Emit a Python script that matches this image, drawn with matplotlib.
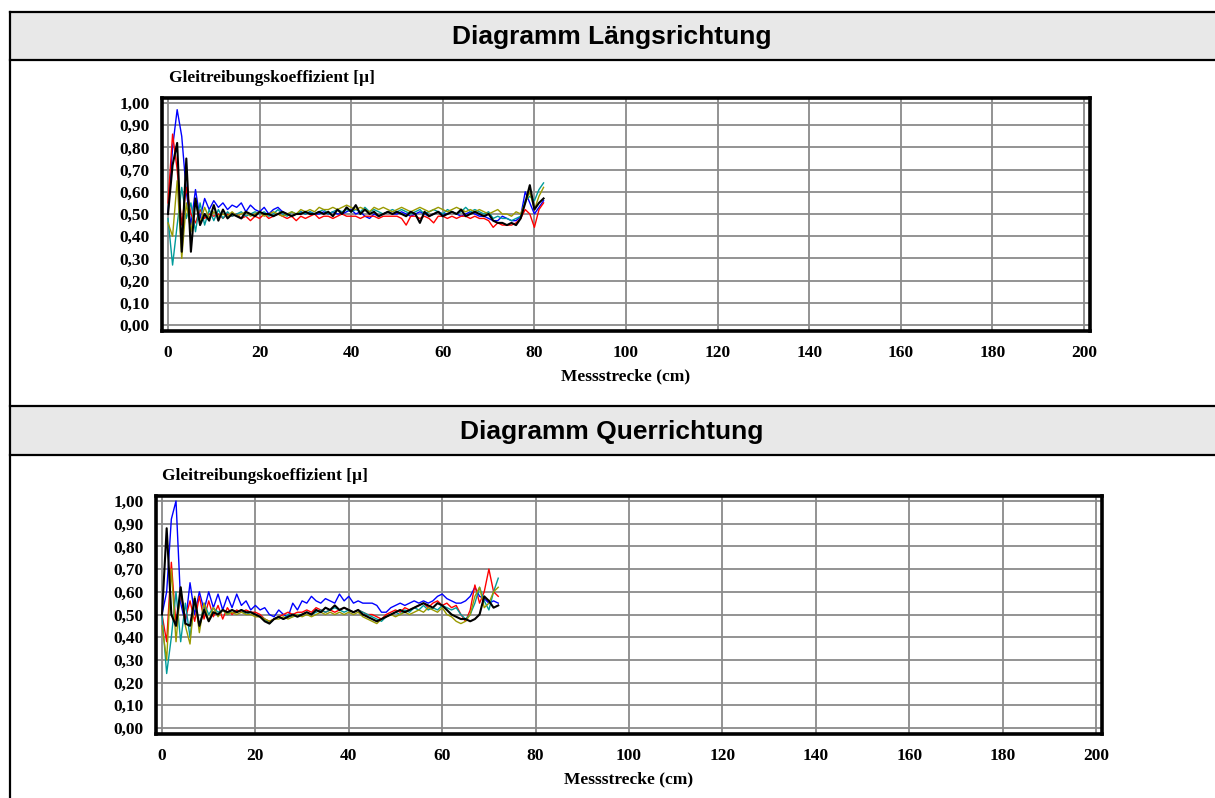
import numpy as np
import matplotlib
matplotlib.use("Agg")
import matplotlib.pyplot as plt

# Messstrecke in cm (1 cm Schritte)
x_laengs = np.arange(0, 83)
x_quer = np.arange(0, 73)

# Diagramm Längsrichtung
laengs_blau = [0.50, 0.80, 0.97, 0.85, 0.60, 0.45, 0.61, 0.48, 0.57, 0.52, 0.56, 0.53, 0.55, 0.52, 0.54, 0.53, 0.55, 0.51, 0.54, 0.52,
               0.51, 0.53, 0.50, 0.52, 0.53, 0.51, 0.50, 0.49, 0.50, 0.51, 0.50, 0.51, 0.50, 0.50, 0.51, 0.50, 0.51, 0.50, 0.50, 0.51,
               0.52, 0.50, 0.51, 0.49, 0.48, 0.50, 0.49, 0.50, 0.51, 0.50, 0.50, 0.51, 0.50, 0.49, 0.50, 0.51, 0.50, 0.49, 0.50, 0.51,
               0.50, 0.50, 0.51, 0.50, 0.49, 0.50, 0.51, 0.50, 0.49, 0.49, 0.48, 0.47, 0.47, 0.49, 0.48, 0.47, 0.47, 0.49, 0.60, 0.55,
               0.50, 0.53, 0.56]
laengs_rot = [0.55, 0.86, 0.70, 0.45, 0.62, 0.50, 0.46, 0.52, 0.48, 0.50, 0.49, 0.50, 0.48, 0.50, 0.49, 0.50, 0.48, 0.49, 0.47, 0.49,
              0.48, 0.50, 0.48, 0.49, 0.50, 0.49, 0.48, 0.49, 0.47, 0.49, 0.48, 0.49, 0.50, 0.48, 0.49, 0.49, 0.48, 0.49, 0.50, 0.49,
              0.49, 0.49, 0.48, 0.49, 0.49, 0.49, 0.48, 0.49, 0.49, 0.49, 0.49, 0.48, 0.45, 0.49, 0.49, 0.48, 0.49, 0.48, 0.46, 0.49,
              0.49, 0.48, 0.49, 0.48, 0.49, 0.49, 0.48, 0.49, 0.48, 0.48, 0.47, 0.44, 0.46, 0.45, 0.45, 0.45, 0.46, 0.48, 0.52, 0.50,
              0.44, 0.52, 0.55]
laengs_tuerkis = [0.48, 0.27, 0.45, 0.62, 0.48, 0.55, 0.42, 0.55, 0.45, 0.52, 0.47, 0.52, 0.48, 0.51, 0.49, 0.50, 0.51, 0.49, 0.50, 0.51,
                  0.50, 0.51, 0.49, 0.50, 0.52, 0.50, 0.49, 0.51, 0.50, 0.51, 0.50, 0.51, 0.50, 0.51, 0.52, 0.50, 0.51, 0.52, 0.51, 0.52,
                  0.51, 0.52, 0.51, 0.53, 0.51, 0.52, 0.51, 0.50, 0.51, 0.52, 0.51, 0.52, 0.51, 0.50, 0.51, 0.52, 0.50, 0.51, 0.52, 0.51,
                  0.50, 0.52, 0.51, 0.50, 0.51, 0.53, 0.51, 0.52, 0.51, 0.50, 0.51, 0.48, 0.49, 0.48, 0.48, 0.47, 0.48, 0.49, 0.56, 0.58,
                  0.56, 0.61, 0.64]
laengs_oliv = [0.46, 0.40, 0.65, 0.30, 0.55, 0.42, 0.56, 0.46, 0.53, 0.48, 0.51, 0.49, 0.50, 0.49, 0.51, 0.49, 0.50, 0.51, 0.49, 0.50,
               0.51, 0.49, 0.50, 0.51, 0.50, 0.49, 0.50, 0.51, 0.50, 0.52, 0.51, 0.52, 0.51, 0.53, 0.52, 0.52, 0.53, 0.52, 0.53, 0.54,
               0.53, 0.52, 0.53, 0.52, 0.51, 0.53, 0.52, 0.53, 0.52, 0.51, 0.52, 0.53, 0.52, 0.51, 0.52, 0.53, 0.52, 0.51, 0.52, 0.53,
               0.52, 0.51, 0.52, 0.53, 0.52, 0.51, 0.52, 0.51, 0.52, 0.51, 0.50, 0.51, 0.52, 0.50, 0.50, 0.49, 0.51, 0.50, 0.55, 0.60,
               0.52, 0.58, 0.62]
laengs_schwarz = [0.50, 0.72, 0.82, 0.33, 0.75, 0.33, 0.57, 0.45, 0.50, 0.47, 0.54, 0.47, 0.52, 0.48, 0.50, 0.49, 0.48, 0.51, 0.50, 0.49,
                  0.51, 0.50, 0.50, 0.49, 0.50, 0.51, 0.50, 0.49, 0.50, 0.50, 0.51, 0.50, 0.50, 0.51, 0.50, 0.51, 0.49, 0.52, 0.50, 0.53,
                  0.51, 0.54, 0.50, 0.52, 0.50, 0.51, 0.49, 0.50, 0.51, 0.50, 0.51, 0.50, 0.49, 0.51, 0.50, 0.46, 0.51, 0.49, 0.50, 0.51,
                  0.49, 0.50, 0.51, 0.50, 0.52, 0.49, 0.50, 0.51, 0.50, 0.49, 0.50, 0.47, 0.46, 0.46, 0.45, 0.46, 0.45, 0.48, 0.55, 0.63,
                  0.52, 0.55, 0.57]

# Diagramm Querrichtung
quer_blau = [0.50, 0.60, 0.92, 1.00, 0.55, 0.46, 0.64, 0.50, 0.60, 0.52, 0.60, 0.53, 0.59, 0.52, 0.58, 0.53, 0.59, 0.54, 0.56, 0.52,
             0.54, 0.52, 0.53, 0.50, 0.49, 0.52, 0.50, 0.49, 0.55, 0.52, 0.56, 0.55, 0.58, 0.56, 0.55, 0.57, 0.56, 0.55, 0.59, 0.56,
             0.58, 0.55, 0.56, 0.55, 0.55, 0.55, 0.54, 0.51, 0.51, 0.53, 0.54, 0.55, 0.54, 0.55, 0.56, 0.55, 0.56, 0.55, 0.56, 0.58,
             0.59, 0.57, 0.56, 0.55, 0.55, 0.56, 0.58, 0.62, 0.58, 0.57, 0.55, 0.56, 0.55]
quer_rot = [0.50, 0.38, 0.73, 0.45, 0.60, 0.48, 0.56, 0.47, 0.58, 0.48, 0.56, 0.49, 0.54, 0.48, 0.53, 0.50, 0.52, 0.51, 0.52, 0.51,
            0.51, 0.50, 0.48, 0.47, 0.48, 0.49, 0.50, 0.51, 0.50, 0.51, 0.51, 0.52, 0.51, 0.53, 0.52, 0.51, 0.52, 0.51, 0.52, 0.53,
            0.52, 0.51, 0.52, 0.51, 0.50, 0.50, 0.49, 0.48, 0.50, 0.51, 0.52, 0.51, 0.53, 0.52, 0.53, 0.54, 0.55, 0.53, 0.55, 0.56,
            0.54, 0.55, 0.53, 0.54, 0.50, 0.47, 0.52, 0.63, 0.55, 0.60, 0.70, 0.60, 0.58]
quer_tuerkis = [0.50, 0.24, 0.40, 0.60, 0.38, 0.55, 0.40, 0.57, 0.44, 0.55, 0.50, 0.53, 0.51, 0.52, 0.50, 0.52, 0.51, 0.52, 0.50, 0.51,
                0.50, 0.49, 0.48, 0.46, 0.48, 0.49, 0.48, 0.50, 0.49, 0.50, 0.50, 0.51, 0.50, 0.51, 0.52, 0.51, 0.52, 0.53, 0.52, 0.51,
                0.52, 0.51, 0.52, 0.51, 0.50, 0.49, 0.48, 0.47, 0.49, 0.50, 0.51, 0.50, 0.52, 0.51, 0.53, 0.52, 0.54, 0.52, 0.53, 0.52,
                0.54, 0.53, 0.52, 0.53, 0.50, 0.48, 0.50, 0.55, 0.62, 0.56, 0.52, 0.60, 0.66]
quer_oliv = [0.45, 0.30, 0.70, 0.38, 0.62, 0.45, 0.37, 0.58, 0.42, 0.55, 0.47, 0.53, 0.49, 0.52, 0.50, 0.51, 0.50, 0.51, 0.50, 0.50,
             0.49, 0.49, 0.48, 0.47, 0.48, 0.48, 0.49, 0.48, 0.49, 0.50, 0.49, 0.50, 0.49, 0.50, 0.51, 0.50, 0.51, 0.50, 0.51, 0.50,
             0.51, 0.50, 0.51, 0.49, 0.48, 0.47, 0.46, 0.48, 0.49, 0.50, 0.49, 0.50, 0.51, 0.50, 0.51, 0.52, 0.51, 0.53, 0.52, 0.51,
             0.53, 0.50, 0.49, 0.47, 0.46, 0.47, 0.50, 0.58, 0.62, 0.53, 0.55, 0.60, 0.62]
quer_schwarz = [0.50, 0.88, 0.50, 0.45, 0.62, 0.46, 0.45, 0.57, 0.45, 0.52, 0.47, 0.51, 0.50, 0.52, 0.51, 0.52, 0.51, 0.52, 0.51, 0.51,
                0.50, 0.49, 0.47, 0.46, 0.48, 0.49, 0.48, 0.49, 0.50, 0.49, 0.50, 0.51, 0.50, 0.52, 0.51, 0.53, 0.52, 0.54, 0.52, 0.53,
                0.52, 0.51, 0.52, 0.50, 0.49, 0.48, 0.47, 0.48, 0.49, 0.50, 0.51, 0.52, 0.51, 0.52, 0.53, 0.54, 0.55, 0.54, 0.53, 0.55,
                0.54, 0.52, 0.50, 0.49, 0.48, 0.48, 0.47, 0.48, 0.50, 0.58, 0.56, 0.53, 0.54]

farben = ["#0000ff", "#ff0000", "#009b9b", "#9a9a00", "#000000"]
x_ticks = np.arange(0, 201, 20)
y_ticks = np.arange(0, 1.01, 0.1)
y_ticklabels = [f"{v:.2f}".replace(".", ",") for v in y_ticks]

W, H = 1215, 798
fig = plt.figure(figsize=(W / 100, H / 100), dpi=100)

# Rahmen / Tabellenkopf in Pixelkoordinaten
bg = fig.add_axes([0, 0, 1, 1])
bg.set_xlim(0, W)
bg.set_ylim(H, 0)
bg.axis("off")
for top, bottom, titel in [(12, 60, "Diagramm Längsrichtung"), (406, 455, "Diagramm Querrichtung")]:
    bg.fill_between([10, W], top, bottom, color="#e8e8e8", lw=0)
    bg.plot([10, W], [top, top], color="black", lw=1.6)
    bg.plot([10, W], [bottom, bottom], color="black", lw=1.6)
    bg.text(612, (top + bottom) / 2 + 1, titel, ha="center", va="center",
            fontsize=19, fontweight="bold", family="Liberation Sans")
bg.plot([10, 10], [12, H], color="black", lw=1.6)


def diagramm(x0, x200, y1, y0, reihen, x, titel_x):
    sx = (x200 - x0) / 200.0
    sy = (y0 - y1) / 1.0
    xmin, xmax = -1.3, 201.3
    ymin, ymax = -0.028, 1.022
    left = x0 + xmin * sx
    right = x0 + xmax * sx
    top = y0 - ymax * sy
    bottom = y0 - ymin * sy
    ax = fig.add_axes([left / W, 1 - bottom / H, (right - left) / W, (bottom - top) / H])
    for werte, c in zip(reihen, farben):
        ax.plot(x, werte, color=c, lw=1.5 if c == "#000000" else 1.0)
    ax.set_xlim(xmin, xmax)
    ax.set_ylim(ymin, ymax)
    ax.set_xticks(x_ticks)
    ax.set_yticks(y_ticks)
    ax.set_yticklabels(y_ticklabels)
    ax.grid(True, color="#8a8a8a", lw=1.3)
    ax.set_axisbelow(True)
    ax.tick_params(length=0, labelsize=12.5, pad=9)
    ax.tick_params(axis="x", pad=10)
    for lab in ax.get_xticklabels() + ax.get_yticklabels():
        lab.set_family("Liberation Serif")
        lab.set_fontweight("bold")
    for s in ax.spines.values():
        s.set_linewidth(2.6)
        s.set_color("black")
    ax.set_xlabel("Messstrecke (cm)", family="Liberation Serif", fontweight="bold",
                  fontsize=12.5, labelpad=5)
    ax.text((titel_x - left) / (right - left), 1.05, "Gleitreibungskoeffizient [µ]",
            transform=ax.transAxes, ha="left", va="bottom",
            family="Liberation Serif", fontweight="bold", fontsize=12.5)
    return ax


diagramm(168, 1084, 103, 325,
         [laengs_blau, laengs_rot, laengs_tuerkis, laengs_oliv, laengs_schwarz], x_laengs, 169)
diagramm(162, 1096, 501, 728,
         [quer_blau, quer_rot, quer_tuerkis, quer_oliv, quer_schwarz], x_quer, 162)

fig.savefig("out.png", dpi=100)
